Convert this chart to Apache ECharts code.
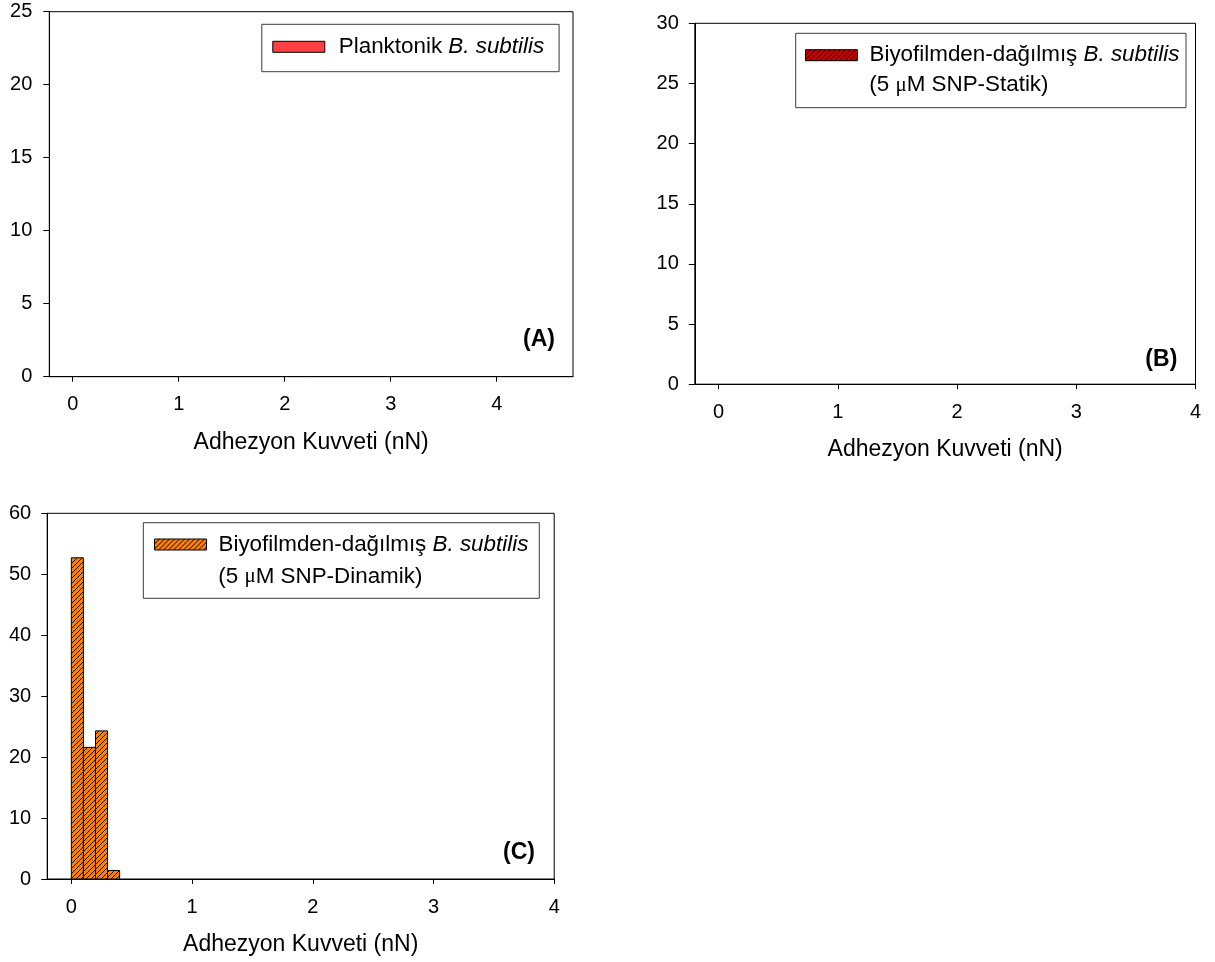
<!DOCTYPE html>
<html>
<head>
<meta charset="utf-8">
<title>Adhezyon Kuvveti dağılımı</title>
<script src="https://cdn.jsdelivr.net/npm/echarts@6/dist/echarts.min.js"></script>
<style>
  html, body { margin: 0; padding: 0; background: #ffffff; }
  #chart { width: 1215px; height: 962px; }
</style>
</head>
<body>
<div id="chart"></div>
<script>
// Histogram bins (nN) and percentage counts per panel
const binEdges = [0, 0.1, 0.2, 0.3, 0.4];
const planktonicCounts = [];                   // (A) Planktonik B. subtilis
const staticCounts = [];                       // (B) 5 µM SNP-Statik
const dynamicCounts = [52.7, 21.6, 24.3, 1.4]; // (C) 5 µM SNP-Dinamik

const xTickValues = [0, 1, 2, 3, 4];
const yTicksA = { min: 0, max: 25, interval: 5 };
const yTicksB = { min: 0, max: 30, interval: 5 };
const yTicksC = { min: 0, max: 60, interval: 10 };

const seriesNames = ['Planktonik B. subtilis', 'Biyofilmden-dağılmış B. subtilis (Statik)', 'Biyofilmden-dağılmış B. subtilis (Dinamik)'];
const axisTitle = 'Adhezyon Kuvveti (nN)';

const FONT = '"Liberation Sans", Arial, Helvetica, sans-serif';
const LEGEND_SIZE = 22.4;

// diagonal "/" hatch used for the biofilm series
function hatch(bg, size, lw) {
  const c = document.createElement('canvas');
  c.width = size; c.height = size;
  const g = c.getContext('2d');
  g.fillStyle = bg; g.fillRect(0, 0, size, size);
  g.strokeStyle = '#000'; g.lineWidth = lw;
  g.beginPath();
  g.moveTo(0, size); g.lineTo(size, 0);
  g.moveTo(-1, 1); g.lineTo(1, -1);
  g.moveTo(size - 1, size + 1); g.lineTo(size + 1, size - 1);
  g.stroke();
  return { image: c, repeat: 'repeat' };
}

const fillA = '#ff4040';
const fillB = hatch('#d00000', 5, 1);
const fillC = hatch('#ff8000', 5, 1);

function binData(counts) {
  return counts.map((v, i) => [binEdges[i], binEdges[i + 1], v]);
}

function makeRender(fill) {
  return function (params, api) {
    const top = api.coord([api.value(0), api.value(2)]);
    const base = api.coord([api.value(1), 0]);
    return {
      type: 'rect',
      shape: { x: top[0], y: top[1], width: base[0] - top[0], height: base[1] - top[1] },
      style: { fill: fill, stroke: '#000', lineWidth: 1 }
    };
  };
}

const grids = [
  { left: 49.3, top: 11.7, width: 523.7, height: 365 },
  { left: 694.8, top: 23.3, width: 500.7, height: 360.9 },
  { left: 47.2, top: 513.3, width: 507, height: 365.7 }
];
const xRanges = [[-0.221, 4.72], [-0.2, 4], [-0.2, 4]];
const yRanges = [yTicksA, yTicksB, yTicksC];
const yLabelMargins = [17, 16, 16];

const xAxes = grids.map((g, i) => ({
  type: 'value',
  gridIndex: i,
  min: xRanges[i][0],
  max: xRanges[i][1],
  name: axisTitle,
  nameLocation: 'middle',
  nameGap: 54,
  nameTextStyle: { fontFamily: FONT, fontSize: 23, color: '#000' },
  axisLine: { show: true, onZero: false, lineStyle: { color: '#000', width: 1 } },
  axisTick: { show: true, length: 5, customValues: xTickValues, lineStyle: { color: '#000' } },
  axisLabel: { customValues: xTickValues, margin: 18, fontFamily: FONT, fontSize: 20, color: '#000' },
  splitLine: { show: false }
}));

const yAxes = grids.map((g, i) => ({
  type: 'value',
  gridIndex: i,
  min: yRanges[i].min,
  max: yRanges[i].max,
  interval: yRanges[i].interval,
  axisLine: { show: true, onZero: false, lineStyle: { color: '#000', width: 1 } },
  axisTick: { show: true, length: 6, lineStyle: { color: '#000' } },
  axisLabel: { margin: yLabelMargins[i], fontFamily: FONT, fontSize: 20, color: '#000' },
  splitLine: { show: false }
}));

const richText = {
  n: { fontFamily: FONT, fontSize: LEGEND_SIZE, color: '#000', lineHeight: 26 },
  i: { fontFamily: FONT, fontSize: LEGEND_SIZE, color: '#000', fontStyle: 'italic', lineHeight: 26 }
};

function legendFor(name, fill, left, top, gap) {
  return {
    show: true,
    selectedMode: false,
    orient: 'vertical',
    left: left,
    top: top,
    padding: 0,
    itemWidth: 52,
    itemHeight: 11,
    data: [{ name: name, icon: 'rect', itemStyle: { color: fill, borderColor: '#000', borderWidth: 1 } }],
    formatter: function (n) {
      const body = n.startsWith('Planktonik') ? '{n|Planktonik }' : '{n|Biyofilmden-dağılmış }';
      return '{g| }' + body + '{i|B. subtilis}';
    },
    textStyle: {
      fontFamily: FONT, fontSize: LEGEND_SIZE, color: '#000',
      rich: Object.assign({}, richText, { g: { width: gap } })
    }
  };
}

const legendBoxes = [
  { x: 261.8, y: 24.3, w: 297.3, h: 47.4 },
  { x: 795.7, y: 33.3, w: 390.3, h: 74.4 },
  { x: 143.3, y: 522.7, w: 396, h: 75.6 }
];

const graphics = legendBoxes.map(b => ({
  type: 'rect',
  shape: { x: b.x, y: b.y, width: b.w, height: b.h },
  style: { fill: 'none', stroke: '#3a3a3a', lineWidth: 1 },
  z: 10
}));

const secondLines = [
  { text: '(5 {mu|μ}M SNP-Statik)', x: 869.3, y: 85 },
  { text: '(5 {mu|μ}M SNP-Dinamik)', x: 218.3, y: 576.5 }
];
secondLines.forEach(l => graphics.push({
  type: 'text',
  x: l.x, y: l.y, z: 10,
  style: {
    text: l.text,
    font: LEGEND_SIZE + 'px ' + FONT,
    fill: '#000',
    verticalAlign: 'middle',
    align: 'left',
    rich: { mu: { fontFamily: '"Liberation Serif", "Times New Roman", serif', fontSize: 21, fill: '#000' } }
  }
}));

const panelTags = [
  { text: '(A)', x: 555, y: 340 },
  { text: '(B)', x: 1177.3, y: 360 },
  { text: '(C)', x: 535, y: 853 }
];
panelTags.forEach(t => graphics.push({
  type: 'text', x: t.x, y: t.y, z: 10,
  style: { text: t.text, font: 'bold 23px ' + FONT, fill: '#000', align: 'right', verticalAlign: 'middle' }
}));

const option = {
  backgroundColor: '#ffffff',
  animation: false,
  grid: grids.map(g => Object.assign({ show: true, borderColor: '#000', borderWidth: 1, backgroundColor: 'transparent' }, g)),
  xAxis: xAxes,
  yAxis: yAxes,
  legend: [
    legendFor(seriesNames[0], fillA, 272.3, 35.8, 9),
    legendFor(seriesNames[1], fillB, 805, 44.2, 7),
    legendFor(seriesNames[2], fillC, 154, 533.5, 7)
  ],
  series: [
    { name: seriesNames[0], type: 'custom', xAxisIndex: 0, yAxisIndex: 0, itemStyle: { color: fillA }, renderItem: makeRender(fillA), data: binData(planktonicCounts), encode: { x: [0, 1], y: 2 } },
    { name: seriesNames[1], type: 'custom', xAxisIndex: 1, yAxisIndex: 1, itemStyle: { color: fillB }, renderItem: makeRender(fillB), data: binData(staticCounts), encode: { x: [0, 1], y: 2 } },
    { name: seriesNames[2], type: 'custom', xAxisIndex: 2, yAxisIndex: 2, itemStyle: { color: fillC }, renderItem: makeRender(fillC), data: binData(dynamicCounts), encode: { x: [0, 1], y: 2 } }
  ],
  graphic: graphics
};

const chart = echarts.init(document.getElementById('chart'), null, { renderer: 'canvas' });
chart.setOption(option);
</script>
</body>
</html>
